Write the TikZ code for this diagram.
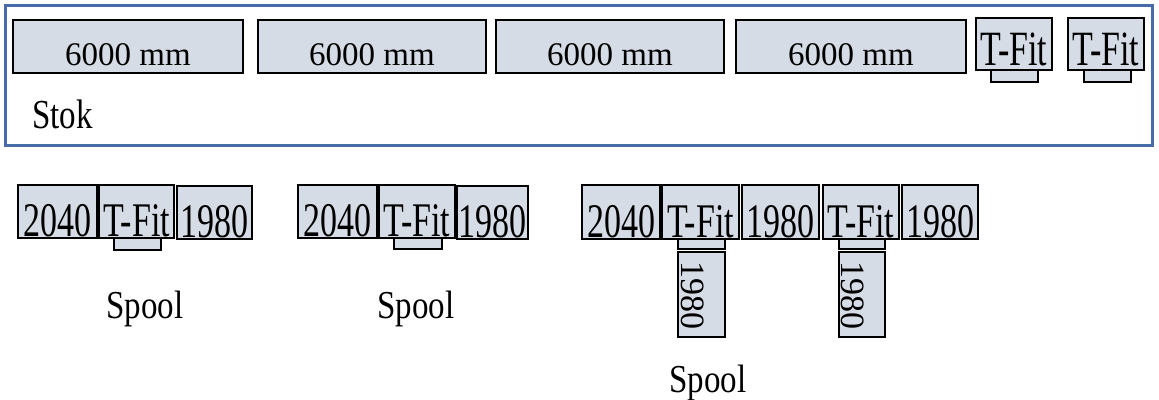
\documentclass[tikz,border=0pt]{standalone}
\usepackage{fontspec}
\setmainfont{Liberation Serif}
\usetikzlibrary{fit,calc}
\definecolor{boxfill}{RGB}{214,220,229}
\definecolor{frameblue}{RGB}{72,108,168}
\newcommand{\pbox}[5]{\node[pb, fit={(#2,#3) (#4,#5)}] (#1) {};}
\newcommand{\tallt}[2]{\scalebox{1}[#1]{#2}}
\tikzset{
  pb/.style={draw=black, fill=boxfill, line width=1.5pt, inner sep=0pt, rectangle},
  lbl/.style={inner sep=0pt, anchor=base, font=\fontsize{34}{36}\selectfont},
  stk/.style={inner sep=0pt, anchor=base, font=\fontsize{33}{36}\selectfont},
  captxt/.style={inner sep=0pt, anchor=base, font=\fontsize{33}{36}\selectfont},
  stockframe/.style={draw=frameblue, line width=3pt}
}
\begin{document}
\begin{tikzpicture}[x=1pt,y=-1pt]
\useasboundingbox (0,0) rectangle (1159,399);
% stock frame
\node[stockframe, inner sep=0pt, fit={(5.5,5.5) (1152.5,145)}] (stock) {};
% stock bars
\pbox{k1}{13}{20}{243}{73}
\pbox{k2}{258}{20}{486}{73}
\pbox{k3}{496}{20}{724}{73}
\pbox{k4}{736}{20}{966}{73}
\foreach \n in {k1,k2,k3,k4}{
  \node[stk] (\n-t) at ($(\n.south)+(0,-8)$) {6000 mm};
}
\pbox{k5}{976}{18}{1052}{70}
\pbox{k5tab}{991}{70}{1038}{82}
\pbox{k6}{1068}{18}{1144}{70}
\pbox{k6tab}{1084}{70}{1131}{82}
\node[lbl] (k5-t) at ($(k5.south)+(0,-5)$) {\tallt{1.45}{T-Fit}};
\node[lbl] (k6-t) at ($(k6.south)+(0,-5)$) {\tallt{1.45}{T-Fit}};
\node[captxt, anchor=base west] (stoklbl) at (32,128) {\tallt{1.25}{Stok}};
% spool 1
\pbox{a1}{18}{185}{97}{238}
\pbox{a2}{99}{185}{174}{238}
\pbox{a3}{177}{186}{252}{239}
\pbox{a2tab}{114}{238}{161}{250}
\node[lbl] (a1-t) at ($(a1.south)+(0,-2)$) {\tallt{1.42}{2040}};
\node[lbl] (a2-t) at ($(a2.south)+(0,-2)$) {\tallt{1.42}{T-Fit}};
\node[lbl] (a3-t) at ($(a3.south)+(0,-2)$) {\tallt{1.42}{1980}};
\node[captxt] (sp1) at (145,318) {\tallt{1.2}{Spool}};
% spool 2
\pbox{b1}{298}{185}{377}{238}
\pbox{b2}{379}{185}{455}{238}
\pbox{b3}{457}{186}{528}{239}
\pbox{b2tab}{394}{238}{442}{249}
\node[lbl] (b1-t) at ($(b1.south)+(0,-2)$) {\tallt{1.42}{2040}};
\node[lbl] (b2-t) at ($(b2.south)+(0,-2)$) {\tallt{1.42}{T-Fit}};
\node[lbl] (b3-t) at ($(b3.south)+(0,-2)$) {\tallt{1.42}{1980}};
\node[captxt] (sp2) at (416,318) {\tallt{1.2}{Spool}};
% spool 3
\pbox{c1}{582}{185}{660}{239}
\pbox{c2}{662}{185}{739}{239}
\pbox{c3}{742}{185}{819}{239}
\pbox{c4}{823}{185}{899}{239}
\pbox{c5}{902}{185}{978}{239}
\pbox{c2tab}{678}{239}{725}{249}
\pbox{c4tab}{839}{239}{885}{249}
\pbox{c2v}{678}{252}{725}{337}
\pbox{c4v}{839}{252}{885}{337}
\node[lbl] (c1-t) at ($(c1.south)+(0,-2)$) {\tallt{1.42}{2040}};
\node[lbl] (c2-t) at ($(c2.south)+(0,-2)$) {\tallt{1.42}{T-Fit}};
\node[lbl] (c3-t) at ($(c3.south)+(0,-2)$) {\tallt{1.42}{1980}};
\node[lbl] (c4-t) at ($(c4.south)+(0,-2)$) {\tallt{1.42}{T-Fit}};
\node[lbl] (c5-t) at ($(c5.south)+(0,-2)$) {\tallt{1.42}{1980}};
\node[lbl, rotate=-90] (c2v-t) at ($(c2v.west)+(4,1)$) {1980};
\node[lbl, rotate=-90] (c4v-t) at ($(c4v.west)+(3,1)$) {1980};
\node[captxt] (sp3) at (708,392) {\tallt{1.2}{Spool}};
\end{tikzpicture}
\end{document}
